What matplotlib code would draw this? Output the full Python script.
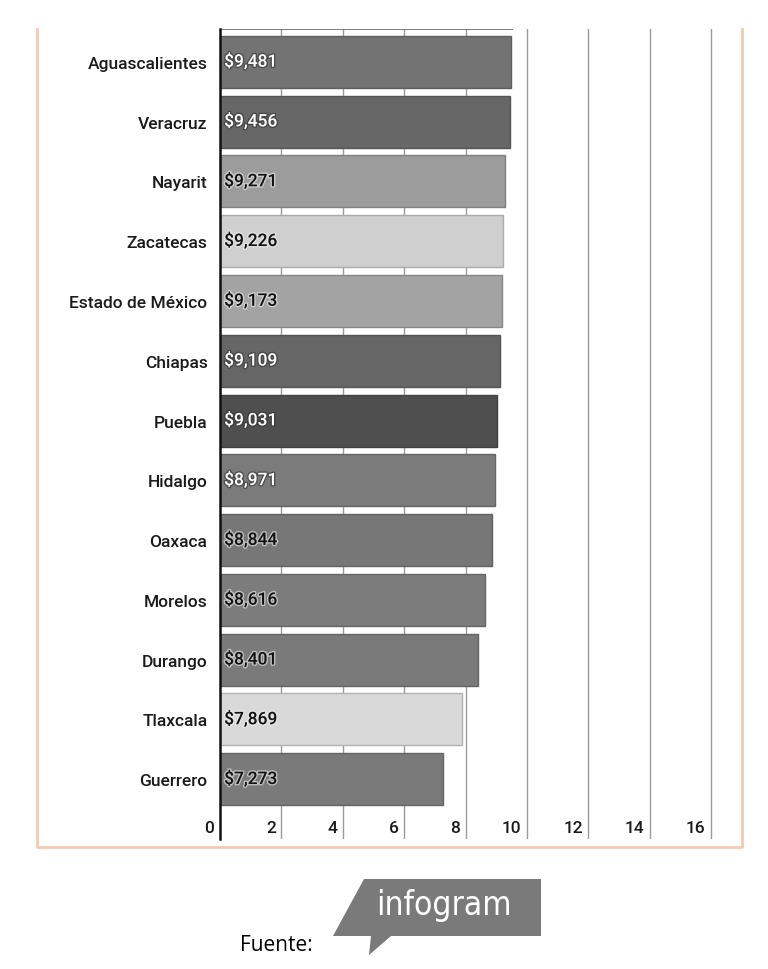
import matplotlib.pyplot as plt
import matplotlib.patheffects as pe
import matplotlib.colors as mcolors
from matplotlib.lines import Line2D
from matplotlib.patches import Polygon

plt.rcParams['font.family'] = ['Roboto', 'DejaVu Sans']

estados = ['Aguascalientes', 'Veracruz', 'Nayarit', 'Zacatecas', 'Estado de México',
           'Chiapas', 'Puebla', 'Hidalgo', 'Oaxaca', 'Morelos', 'Durango',
           'Tlaxcala', 'Guerrero']
valores = [9.481, 9.456, 9.271, 9.226, 9.173, 9.109, 9.031, 8.971, 8.844, 8.616,
           8.401, 7.869, 7.273]
etiquetas = ['$9,481', '$9,456', '$9,271', '$9,226', '$9,173', '$9,109', '$9,031',
             '$8,971', '$8,844', '$8,616', '$8,401', '$7,869', '$7,273']
colores = ['#737373', '#676767', '#9c9c9c', '#cfcfcf', '#a3a3a3', '#666666',
           '#4f4f4f', '#7b7b7b', '#777777', '#7c7c7c', '#7a7a7a', '#d9d9d9', '#7a7a7a']
texto_blanco = [True, True, False, False, False, True, True, True,
                False, False, False, False, False]
ticks = [0, 2, 4, 6, 8, 10, 12, 14, 16]

W, H = 768, 970
fig = plt.figure(figsize=(W / 100, H / 100), dpi=100)
ax = fig.add_axes([220 / W, 1 - 840 / H, (742 - 220) / W, 810 / H])

# borde un poco mas oscuro que el relleno
bordes = [tuple(v * 0.82 for v in mcolors.to_rgb(c)) for c in colores]

pos = list(range(len(estados)))
ax.barh(pos, valores, height=0.87, color=colores, edgecolor=bordes,
        linewidth=1.0, zorder=2)

ax.set_xlim(0, 17)
ax.set_ylim(len(estados), -0.55)

# rejilla vertical (detras de las barras)
for t in ticks[1:]:
    ax.axvline(t, color='#9a9a9a', lw=1.0, zorder=1)
# linea superior recortada
ax.hlines(-0.55, 0, max(valores) + 0.05, color='#666666', lw=1.2, zorder=3)

ax.set_yticks(pos)
ax.set_yticklabels(estados, fontsize=12.5, color='#1a1a1a', fontweight='medium')
ax.tick_params(axis='y', length=0, pad=9)
ax.set_xticks([])
for s in ['top', 'right', 'bottom']:
    ax.spines[s].set_visible(False)
ax.spines['left'].set_linewidth(1.8)
ax.spines['left'].set_color('#111111')
ax.spines['left'].set_zorder(4)

# numeros del eje dentro del area
for t in ticks:
    ax.annotate(str(t), (t, len(estados) - 0.2), xytext=(-4, 0),
                textcoords='offset points', ha='right', va='center',
                fontsize=12.5, color='#1a1a1a', fontweight='medium')

# etiquetas de valor
for i, (lab, blanco) in enumerate(zip(etiquetas, texto_blanco)):
    c = 'white' if blanco else '#111111'
    sombra = '#333333' if blanco else '#eeeeee'
    ax.annotate(lab, (0, i), xytext=(3, 0), textcoords='offset points',
                ha='left', va='center', fontsize=12.5, color=c, zorder=5,
                fontweight='medium',
                path_effects=[pe.withStroke(linewidth=2, foreground=sombra, alpha=0.6)])

# marco naranja (izq, der, abajo)
naranja = '#f3cbb0'
fx = lambda x: x / W
fy = lambda y: 1 - y / H
fig.add_artist(Line2D([fx(37), fx(37), fx(742), fx(742)],
                      [fy(30), fy(848), fy(848), fy(30)],
                      color=naranja, lw=2, transform=fig.transFigure))

# logo infogram
logo = Polygon([(fx(364), fy(880)), (fx(541), fy(880)), (fx(541), fy(937)),
                (fx(391), fy(937)), (fx(369), fy(956)), (fx(371), fy(937)),
                (fx(333), fy(937))],
               closed=True, facecolor='#7a7a7a', edgecolor='none',
               transform=fig.transFigure)
fig.add_artist(logo)
fig.text(fx(444), fy(906), 'infogram', color='white', fontsize=24,
         ha='center', va='center', family=['DejaVu Sans'], fontstretch='condensed')
fig.text(fx(240), fy(946), 'Fuente:', color='black', fontsize=15,
         ha='left', va='center', family=['Open Sans', 'DejaVu Sans'])

fig.savefig('out.png', dpi=100)
